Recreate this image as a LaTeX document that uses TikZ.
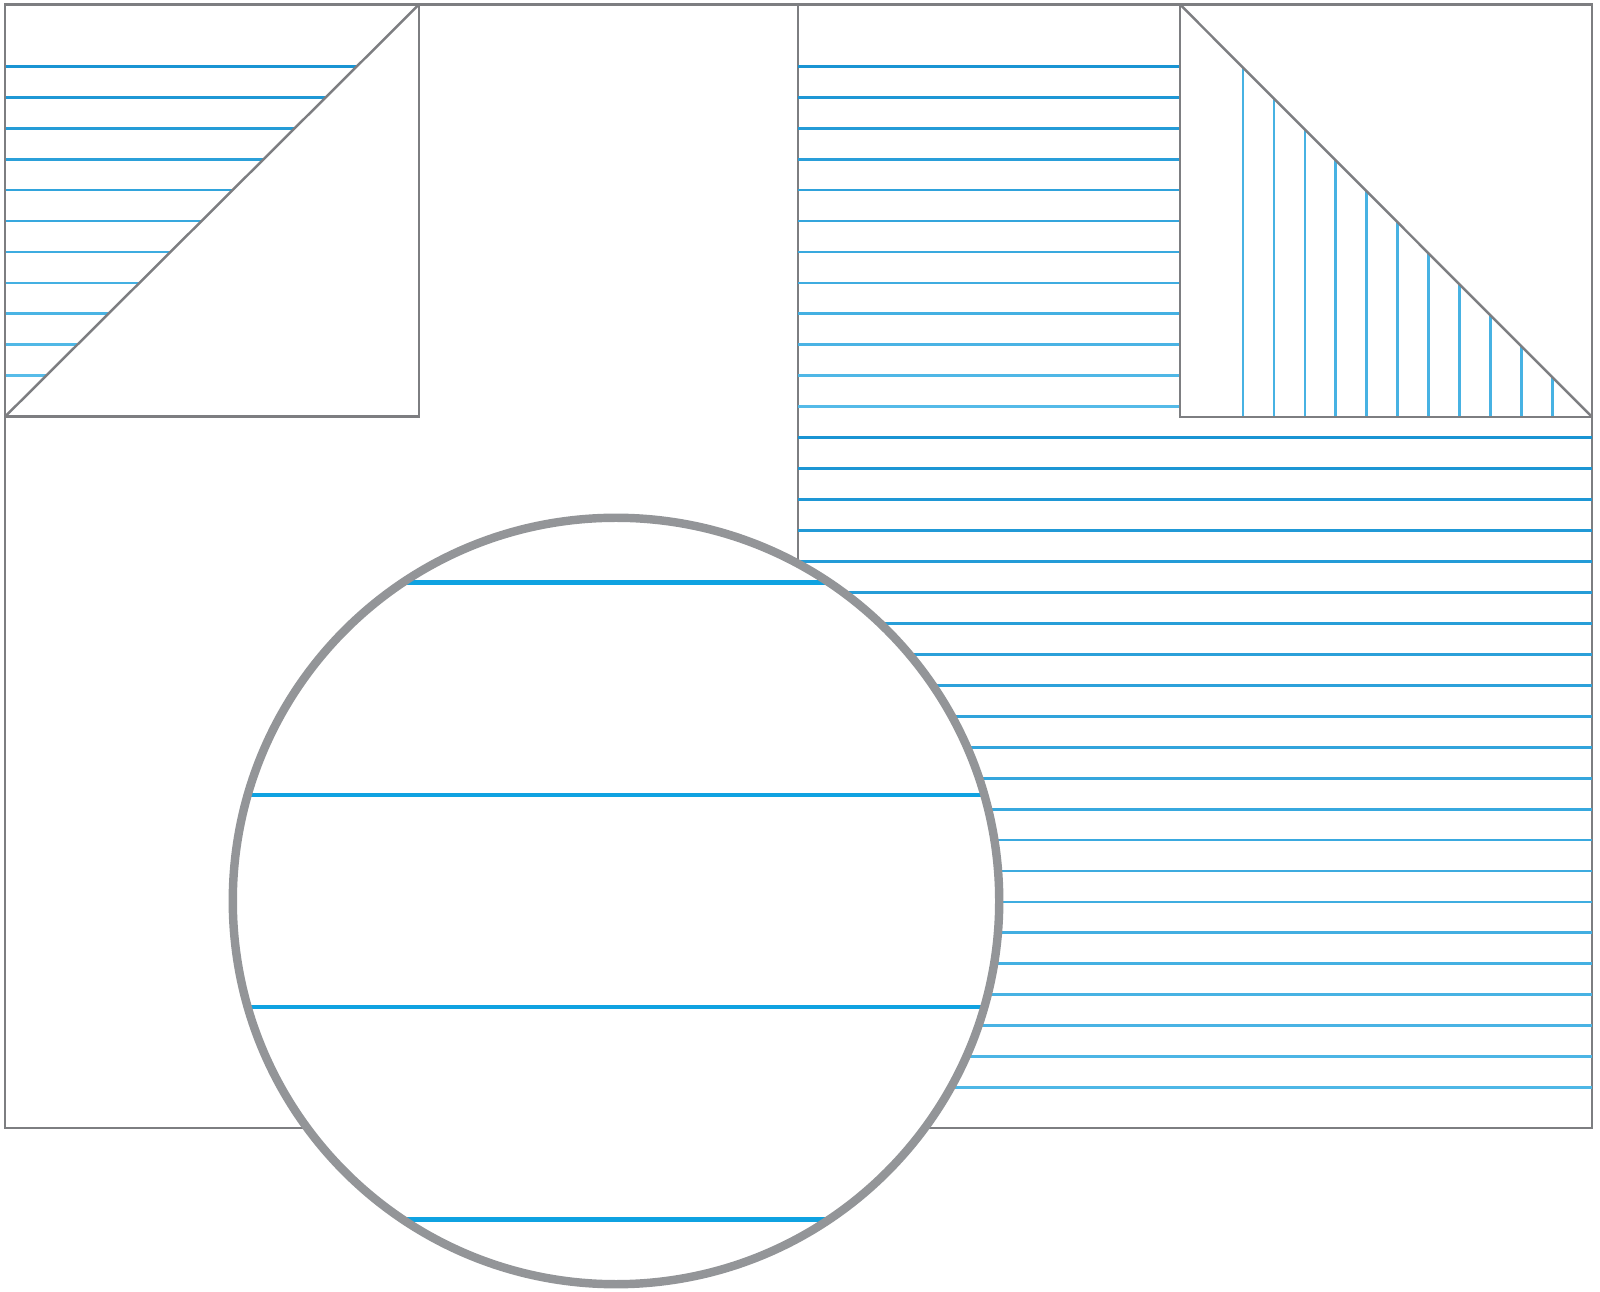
\documentclass[tikz,border=0pt]{standalone}
\usepackage{xcolor}
\usepackage{tikz}

\definecolor{frame}{HTML}{7D7E81}
\definecolor{lens}{HTML}{939598}
\definecolor{ruledark}{HTML}{1994D3}
\definecolor{rulelight}{HTML}{66C6EE}
\definecolor{zoomrule}{HTML}{0FA2E1}

\tikzset{
  sheet/.style={draw=frame,line width=0.7pt},
  ruling/.style={line width=0.8pt}
}

\begin{document}
\begin{tikzpicture}[x=0.01cm,y=-0.01cm]
\useasboundingbox (0,0) rectangle (1600,1292);
\coordinate (lens) at (616,901);

% the sheet and its fold
\draw[sheet] (5,4.5) rectangle (1592,1128);
\draw[sheet] (798,4.5) -- (798,700);

% left corner, ruled above the diagonal
\begin{scope}
\clip (5,4.5) -- (419,4.5) -- (5,416.7) -- cycle;
\foreach \i in {0,...,10}{
  \pgfmathsetmacro\p{\i*8}
  \draw[ruling,color=rulelight!\p!ruledark] (5,66.3+30.95*\i) -- (419,66.3+30.95*\i);
}
\end{scope}
\draw[sheet] (5,4.5) rectangle (419,416.7);
\draw[sheet] (5,416.7) -- (419,4.5);

% right page rulings
\foreach \i in {0,...,11}{
  \pgfmathsetmacro\p{\i*7}
  \draw[ruling,color=rulelight!\p!ruledark] (798,66.3+30.95*\i) -- (1180,66.3+30.95*\i);
}
\foreach \i in {12,...,33}{
  \pgfmathsetmacro\p{(\i-12)*3.3}
  \draw[ruling,color=rulelight!\p!ruledark] (798,66.3+30.95*\i) -- (1592,66.3+30.95*\i);
}

% right corner, ruled below the diagonal
\begin{scope}
\clip (1180,4.5) -- (1592,417) -- (1180,417) -- cycle;
\foreach \j in {0,...,10}
  \draw[ruling,color=rulelight!60!ruledark] (1243+30.95*\j,0) -- (1243+30.95*\j,417);
\end{scope}
\draw[sheet] (1180,4.5) rectangle (1592,417);
\draw[sheet] (1180,4.5) -- (1592,417);

% magnifier
\fill[white] (lens) circle [radius=3.83cm];
\begin{scope}
\clip (lens) circle [radius=3.83cm];
\foreach \d in {-318.5,-106,106,318.5}
  \draw[line width=1.2pt,color=zoomrule] (200,901+\d) -- (1050,901+\d);
\end{scope}
\draw[draw=lens,line width=2.4pt] (lens) circle [radius=3.83cm];
\end{tikzpicture}
\end{document}
